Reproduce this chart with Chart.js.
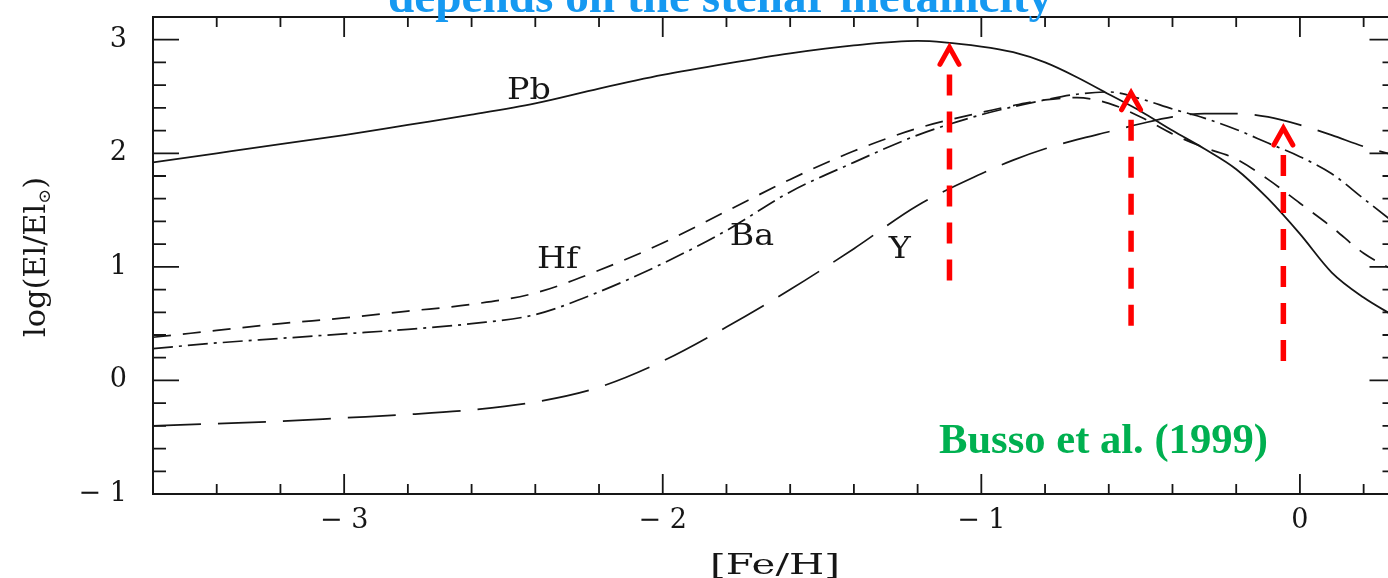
<!DOCTYPE html>
<html>
<head>
<meta charset="utf-8">
<script src="https://cdn.jsdelivr.net/npm/chart.js@4.4.1/dist/chart.umd.min.js"></script>
<style>
  html, body { margin: 0; padding: 0; background: #fff; overflow: hidden; width: 1388px; height: 578px; }
  #wrap { position: absolute; left: 0; top: 0; width: 1400px; height: 578px; }
</style>
</head>
<body>
<div id="wrap"><canvas id="c" width="1400" height="578"></canvas></div>
<script>
// Metallicity grid [Fe/H]
const feH = [-3.6, -3.4, -3.2, -3.0, -2.8, -2.6, -2.4, -2.2, -2.0, -1.8, -1.6, -1.4, -1.2,
             -1.0, -0.9, -0.8, -0.7, -0.6, -0.5, -0.4, -0.3, -0.2, -0.1, 0.0, 0.1, 0.2, 0.3];
// log(El/El_sun) for each element along the grid
const pb = [1.92, 2.00, 2.08, 2.16, 2.25, 2.34, 2.44, 2.57, 2.69, 2.79, 2.88, 2.95, 2.99,
            2.94, 2.89, 2.80, 2.67, 2.52, 2.37, 2.20, 2.04, 1.86, 1.60, 1.29, 0.95, 0.73, 0.56];
const hf = [0.38, 0.44, 0.50, 0.55, 0.61, 0.67, 0.77, 0.97, 1.21, 1.49, 1.77, 2.02, 2.22,
            2.36, 2.42, 2.47, 2.49, 2.44, 2.32, 2.17, 2.05, 1.95, 1.77, 1.56, 1.35, 1.12, 0.96];
const ba = [0.28, 0.33, 0.37, 0.41, 0.45, 0.50, 0.58, 0.78, 1.03, 1.32, 1.66, 1.92, 2.16,
            2.34, 2.41, 2.47, 2.52, 2.54, 2.48, 2.39, 2.31, 2.21, 2.09, 1.97, 1.82, 1.60, 1.38];
const yEl = [-0.40, -0.38, -0.36, -0.33, -0.30, -0.26, -0.19, -0.06, 0.17, 0.47, 0.80, 1.16, 1.54,
             1.82, 1.94, 2.04, 2.12, 2.19, 2.26, 2.32, 2.35, 2.35, 2.32, 2.25, 2.16, 2.06, 1.98];

// Axis ticks
const xTickValues = [-3, -2, -1, 0];
const yTickValues = [-1, 0, 1, 2, 3];

// Curve labels (name, [Fe/H], log value of baseline)
const curveNames = ['Pb', 'Hf', 'Ba', 'Y'];
const curveLabelFeH = [-2.42, -2.33, -1.72, -1.256];
const curveLabelLog = [2.48, 0.99, 1.19, 1.08];

// Highlight arrows: position, tip and base in data units
const arrowFeH = [-1.10, -0.53, -0.052];
const arrowTipLog = [2.95, 2.55, 2.24];
const arrowBaseLog = [0.86, 0.47, 0.16];

const INK = '#161616';
const SERIF = '"DejaVu Serif", serif';
const TIMES = '"Liberation Serif", "Times New Roman", serif';

const pts = (ys) => feH.map((x, i) => ({ x: x, y: ys[i] }));

function fmtTick(v) {
  return v < 0 ? '\u2212 ' + Math.abs(v) : String(v);
}

// Draws text horizontally stretched to a given width
function drawFitted(ctx, text, x, y, font, width, align) {
  ctx.save();
  ctx.font = font;
  const w = ctx.measureText(text).width;
  const s = width / w;
  ctx.translate(x, y);
  ctx.scale(s, 1);
  ctx.textAlign = align || 'center';
  ctx.fillText(text, 0, 0);
  ctx.restore();
}

// Frame with inward major / minor ticks on all four sides
const framePlugin = {
  id: 'frame',
  beforeDatasetsDraw(chart) {
    const { ctx, chartArea: a, scales: { x, y } } = chart;
    ctx.save();
    ctx.strokeStyle = INK;
    ctx.lineWidth = 2;
    ctx.beginPath();
    ctx.rect(a.left, a.top, a.right - a.left, a.bottom - a.top);
    ctx.stroke();
    ctx.lineWidth = 1.8;
    ctx.beginPath();
    for (let i = 0; i <= 19; i++) {
      const v = Math.round((-3.6 + i * 0.2) * 10) / 10;
      const major = Math.abs(v - Math.round(v)) < 1e-6;
      const len = major ? 20 : 10;
      const px = x.getPixelForValue(v);
      ctx.moveTo(px, a.bottom); ctx.lineTo(px, a.bottom - len);
      ctx.moveTo(px, a.top); ctx.lineTo(px, a.top + len);
    }
    for (let i = 0; i <= 21; i++) {
      const v = Math.round((-1 + i * 0.2) * 10) / 10;
      const major = Math.abs(v - Math.round(v)) < 1e-6;
      const len = major ? 26 : 13;
      const py = y.getPixelForValue(v);
      ctx.moveTo(a.left, py); ctx.lineTo(a.left + len, py);
      ctx.moveTo(a.right, py); ctx.lineTo(a.right - len, py);
    }
    ctx.stroke();
    ctx.restore();
  }
};

// Labels, titles and arrows
const notesPlugin = {
  id: 'notes',
  afterDraw(chart) {
    const { ctx, scales: { x, y } } = chart;
    ctx.save();
    ctx.fillStyle = INK;
    ctx.textBaseline = 'alphabetic';

    // element names next to curves
    curveNames.forEach((n, i) => {
      ctx.save();
      ctx.font = '29px ' + SERIF;
      ctx.translate(x.getPixelForValue(curveLabelFeH[i]), y.getPixelForValue(curveLabelLog[i]));
      ctx.scale(1.15, 1);
      ctx.textAlign = 'center';
      ctx.fillText(n, 0, 0);
      ctx.restore();
    });

    // x axis title
    drawFitted(ctx, '[Fe/H]', 775, 574, '28px ' + SERIF, 130, 'center');

    // y axis title with subscript sun symbol
    ctx.save();
    ctx.translate(45, 257);
    ctx.rotate(-Math.PI / 2);
    const mainF = '29px ' + SERIF, subF = '17px ' + SERIF;
    ctx.font = mainF;
    const p1 = 'log(El/El', p3 = ')';
    const w1 = ctx.measureText(p1).width, w3 = ctx.measureText(p3).width;
    ctx.font = subF;
    const w2 = ctx.measureText('\u2299').width;
    const total = w1 + w2 + w3;
    const s = 160 / total;
    ctx.scale(s, 1);
    let cx = -total / 2;
    ctx.textAlign = 'left';
    ctx.font = mainF; ctx.fillText(p1, cx, 0); cx += w1;
    ctx.font = subF; ctx.fillText('\u2299', cx, 5); cx += w2;
    ctx.font = mainF; ctx.fillText(p3, cx, 0);
    ctx.restore();

    // red dashed arrows
    ctx.strokeStyle = '#ff0000';
    arrowFeH.forEach((v, i) => {
      const px = x.getPixelForValue(v);
      const tip = y.getPixelForValue(arrowTipLog[i]);
      const base = y.getPixelForValue(arrowBaseLog[i]);
      ctx.lineWidth = 5.5;
      ctx.lineCap = 'butt';
      ctx.setLineDash([21, 16]);
      ctx.beginPath();
      ctx.moveTo(px, tip + 29);
      ctx.lineTo(px, base);
      ctx.stroke();
      ctx.setLineDash([]);
      ctx.lineWidth = 5;
      ctx.lineCap = 'round';
      ctx.lineJoin = 'miter';
      ctx.beginPath();
      ctx.moveTo(px - 9.5, tip + 19);
      ctx.lineTo(px, tip + 2);
      ctx.lineTo(px + 9.5, tip + 19);
      ctx.stroke();
    });

    // headline (runs off the top edge)
    ctx.fillStyle = '#1699f1';
    drawFitted(ctx, 'depends on the stellar metallicity', 388, 12, 'bold 47px ' + TIMES, 664, 'left');

    // reference credit
    ctx.fillStyle = '#00b050';
    drawFitted(ctx, 'Busso et al. (1999)', 939, 453, 'bold 42px ' + TIMES, 329, 'left');
    ctx.restore();
  }
};

const lineDs = (label, ys, dash, width) => ({
  label: label,
  data: pts(ys),
  borderColor: INK,
  borderWidth: width,
  borderDash: dash,
  pointRadius: 0,
  fill: false,
  cubicInterpolationMode: 'monotone'
});

new Chart(document.getElementById('c'), {
  type: 'line',
  data: {
    datasets: [
      lineDs('Pb', pb, [], 1.8),
      lineDs('Hf', hf, [18, 12], 1.7),
      lineDs('Ba', ba, [20, 6, 3, 6], 1.7),
      lineDs('Y', yEl, [48, 17], 1.7)
    ]
  },
  options: {
    responsive: false,
    animation: false,
    devicePixelRatio: 1,
    layout: { padding: { top: 17, right: 4.5, left: 0, bottom: 0 } },
    plugins: { legend: { display: false }, tooltip: { enabled: false } },
    scales: {
      x: {
        type: 'linear',
        min: -3.6, max: 0.3,
        grid: { display: false, drawTicks: false },
        border: { display: false },
        afterBuildTicks: (s) => { s.ticks = xTickValues.map(v => ({ value: v })); },
        afterFit: (s) => { s.height = 84; s.paddingLeft = 0; s.paddingRight = 0; },
        ticks: {
          color: INK,
          padding: 11,
          maxRotation: 0,
          font: { family: SERIF, size: 27 },
          callback: (v) => fmtTick(v)
        }
      },
      y: {
        type: 'linear',
        min: -1, max: 3.2,
        grid: { display: false, drawTicks: false },
        border: { display: false },
        afterBuildTicks: (s) => { s.ticks = yTickValues.map(v => ({ value: v })); },
        afterFit: (s) => { s.width = 153; s.paddingTop = 0; s.paddingBottom = 0; },
        ticks: {
          color: INK,
          padding: 26,
          font: { family: SERIF, size: 27 },
          callback: (v) => fmtTick(v)
        }
      }
    }
  },
  plugins: [framePlugin, notesPlugin]
});
</script>
</body>
</html>
